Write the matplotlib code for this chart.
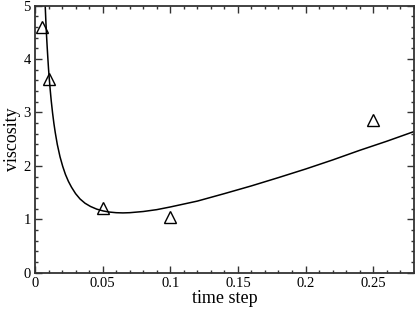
import matplotlib
matplotlib.use("Agg")
import matplotlib.pyplot as plt
from matplotlib.ticker import MultipleLocator

# measured points (triangles)
dt = [0.005, 0.01, 0.05, 0.1, 0.25]
visc = [4.60, 3.62, 1.22, 1.05, 2.85]

# fitted curve
curve_x = [0.0075, 0.0080, 0.0085, 0.0090, 0.0095, 0.0100, 0.0106, 0.0113, 0.0120,
           0.0130, 0.0140, 0.0150, 0.0165, 0.0185, 0.0205, 0.0225, 0.0247, 0.0270,
           0.0300, 0.0333, 0.0370, 0.0410, 0.0456, 0.0505, 0.0550, 0.0600, 0.0650,
           0.0700, 0.0800, 0.0900, 0.1000, 0.1200, 0.1400, 0.1600, 0.1800, 0.2000,
           0.2200, 0.2400, 0.2600, 0.2800]
curve_y = [5.03, 4.73, 4.46, 4.23, 4.02, 3.82, 3.62, 3.41, 3.22,
           2.99, 2.79, 2.62, 2.40, 2.17, 1.99, 1.84, 1.71, 1.60,
           1.48, 1.38, 1.30, 1.24, 1.19, 1.155, 1.135, 1.123, 1.119,
           1.123, 1.145, 1.18, 1.23, 1.34, 1.48, 1.625, 1.78, 1.94,
           2.11, 2.29, 2.46, 2.64]

plt.rcParams['font.family'] = ['Liberation Serif', 'DejaVu Serif']

fig = plt.figure(figsize=(4.15, 3.09), dpi=100)
ax = fig.add_axes([0.0843, 0.1175, 0.9127, 0.8645])

ax.plot(curve_x, curve_y, color='black', lw=1.1)
ax.plot(dt, visc, linestyle='none', marker='^', ms=8, mfc='none',
        mec='black', mew=1.0)

ax.set_xlim(0, 0.28)
ax.set_ylim(0, 5)
ax.xaxis.set_major_locator(MultipleLocator(0.05))
ax.xaxis.set_minor_locator(MultipleLocator(0.01))
ax.yaxis.set_major_locator(MultipleLocator(1))
ax.yaxis.set_minor_locator(MultipleLocator(0.2))
ax.set_xticks([0, 0.05, 0.1, 0.15, 0.2, 0.25])
ax.set_xticklabels(['0', '0.05', '0.1', '0.15', '0.2', '0.25'])

ax.tick_params(which='both', direction='in', top=True, right=True,
               labelsize=10.5, width=1.0, color='#333333')
ax.tick_params(which='major', length=5, pad=3)
ax.tick_params(which='minor', length=2.5)
for s in ax.spines.values():
    s.set_linewidth(1.3)
    s.set_color('#333333')

ax.set_xlabel('time step', fontsize=13, labelpad=0)
ax.set_ylabel('viscosity', fontsize=13, labelpad=2)

fig.savefig('out.png', dpi=100)
